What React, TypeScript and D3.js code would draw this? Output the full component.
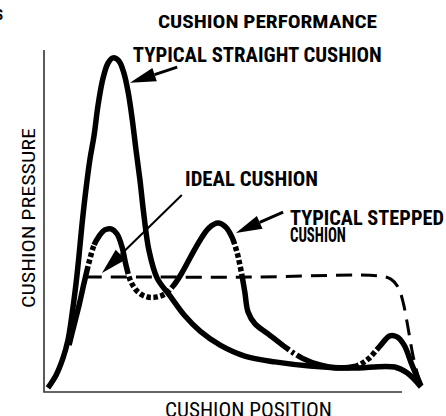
import * as d3 from 'd3';
import { useEffect, useRef } from 'react';

// position (0-100 along stroke) vs pressure (0-100)
const straightCushion: [number, number][] = [
  [1.1, 1.2], [3.4, 5.0], [5.3, 9.9], [6.7, 15.2], [7.8, 22.5], [8.9, 31.3],
  [9.8, 40.1], [10.6, 48.8], [11.7, 59.1], [12.8, 67.8], [14.0, 75.1], [15.1, 83.9],
  [16.5, 91.8], [17.9, 96.2], [19.3, 97.7], [20.9, 96.8], [22.3, 93.3], [23.5, 87.7],
  [24.6, 80.1], [25.7, 70.8], [26.8, 62.0], [27.9, 51.8], [29.3, 41.5], [31.6, 33.3],
  [35.2, 28.1], [39.4, 22.2], [43.6, 17.8], [49.2, 13.7], [56.1, 10.5], [64.5, 8.8],
  [74.3, 7.6], [85.5, 7.0], [98.0, 7.3], [101.4, 5.6], [105.3, 1.5],
];

const steppedCushion: [number, number][] = [
  [7.0, 13.7], [8.4, 19.6], [9.8, 25.4], [11.2, 31.9], [12.6, 38.0], [14.0, 43.0],
  [15.4, 45.6], [17.0, 47.4], [18.7, 47.7], [20.4, 46.2], [21.8, 42.4], [22.9, 37.1],
  [24.3, 32.2], [26.3, 29.2], [28.8, 27.8], [31.6, 27.8], [34.1, 28.9], [36.3, 31.3],
  [38.5, 34.8], [41.1, 39.8], [43.6, 44.4], [46.1, 48.0], [48.6, 49.4], [50.8, 48.2],
  [52.5, 45.3], [53.9, 40.9], [55.0, 35.7], [56.1, 29.2], [57.0, 23.4], [58.9, 20.0],
  [62.6, 17.0], [67.3, 13.2], [72.1, 9.9], [77.1, 7.9], [82.7, 7.0], [87.2, 7.6],
  [90.5, 9.6], [93.9, 13.5], [96.6, 16.4], [98.6, 16.1], [100.6, 13.7], [102.8, 7.9],
  [105.3, 1.8],
];

// broken stretches of the stepped curve: [from x, to x, kind]
const steppedBreaks: [number, number, string][] = [
  [12.0, 14.0, 'dot'],
  [23.2, 36.0, 'dot'],
  [52.8, 55.3, 'dot'],
  [66.8, 72.1, 'dashdot'],
  [86.6, 93.3, 'dot'],
];

const idealCushion: [number, number][] = [
  [11.7, 33.6], [29.6, 33.6], [57.5, 33.6], [93.9, 33.9], [96.9, 33.0], [98.9, 30.7],
  [100.3, 26.3], [101.7, 18.7], [103.1, 10.5], [104.5, 4.7], [105.9, 0.6],
];

// callouts: label lines, label anchor, arrow tail, arrow tip (data units)
const callouts = [
  { lines: ['TYPICAL STRAIGHT CUSHION'], at: [24.8, 96.5], widths: [249], tail: [37.2, 95.0], tip: [24.0, 90.4], w: 3 },
  { lines: ['IDEAL CUSHION'], at: [39.4, 60.2], widths: [133], tail: [38.5, 57.6], tip: [16.2, 34.8], w: 2 },
  { lines: ['TYPICAL STEPPED', 'CUSHION'], at: [68.7, 48.8], widths: [154, 56], tail: [66.8, 52.6], tip: [53.6, 46.5], w: 3 },
];

const patterns: Record<string, number[]> = { dot: [4.5, 2.5], dashdot: [7, 3, 3, 3] };

const FONT = "'Roboto Condensed', Roboto, 'Liberation Sans', sans-serif";

export default function App() {
  const svgRef = useRef<SVGSVGElement>(null);

  useEffect(() => {
    if (!svgRef.current) return;
    const width = 446;
    const height = 416;
    const svg = d3.select(svgRef.current);
    svg.selectAll('*').remove();

    const x = d3.scaleLinear().domain([0, 100]).range([44, 402]);
    const y = d3.scaleLinear().domain([0, 100]).range([392, 50]);

    const line = d3.line<[number, number]>()
      .x((d) => x(d[0]))
      .y((d) => y(d[1]))
      .curve(d3.curveCatmullRom.alpha(0.5));

    // cut-off text at the corner
    svg.append('text').attr('x', 3).attr('y', 20).attr('text-anchor', 'end')
      .attr('font-family', FONT).attr('font-weight', 'bold').attr('font-size', 15).text('S');

    // axes
    svg.append('path')
      .attr('d', `M${x(0)},${y(100)}V${y(0)}H${x(100)}`)
      .attr('fill', 'none').attr('stroke', '#333').attr('stroke-width', 1.6);

    // titles
    svg.append('text').attr('x', 158).attr('y', 28)
      .attr('font-family', FONT).attr('font-weight', 'bold').attr('font-size', 19)
      .attr('textLength', 219).attr('lengthAdjust', 'spacingAndGlyphs')
      .text('CUSHION PERFORMANCE');
    svg.append('text').attr('x', 165).attr('y', 417)
      .attr('font-family', FONT).attr('font-size', 20)
      .attr('textLength', 167).attr('lengthAdjust', 'spacingAndGlyphs')
      .text('CUSHION POSITION');
    svg.append('text').attr('transform', 'translate(35,308) rotate(-90)')
      .attr('font-family', FONT).attr('font-size', 18.5)
      .attr('textLength', 180).attr('lengthAdjust', 'spacingAndGlyphs')
      .text('CUSHION PRESSURE');

    // ideal cushion
    svg.append('path').attr('d', line(idealCushion))
      .attr('fill', 'none').attr('stroke', '#000').attr('stroke-width', 3)
      .attr('stroke-dasharray', '16 9');

    // straight cushion
    svg.append('path').attr('d', line(straightCushion))
      .attr('fill', 'none').attr('stroke', '#000').attr('stroke-width', 5.5)
      .attr('stroke-linejoin', 'round');

    // stepped cushion, solid with broken stretches
    const stepped = svg.append('path').attr('d', line(steppedCushion))
      .attr('fill', 'none').attr('stroke', '#000').attr('stroke-width', 5.5)
      .attr('stroke-linejoin', 'round');
    const node = stepped.node() as SVGPathElement;
    const total = node.getTotalLength();
    const lengthAtX = (px: number) => {
      let lo = 0, hi = total;
      for (let i = 0; i < 40; i++) {
        const mid = (lo + hi) / 2;
        if (node.getPointAtLength(mid).x < px) lo = mid; else hi = mid;
      }
      return lo;
    };
    const dash: number[] = [];
    let cursor = 0;
    steppedBreaks.forEach(([a, b, kind]) => {
      const la = lengthAtX(x(a));
      const lb = lengthAtX(x(b));
      dash.push(la - cursor, 0);
      const pat = patterns[kind];
      let pos = la, k = 0;
      while (pos < lb) {
        const seg = Math.min(pat[k % pat.length], lb - pos);
        dash.push(seg);
        pos += seg;
        k++;
      }
      if (dash.length % 2 === 1) dash.push(0);
      cursor = lb;
    });
    dash.push(total - cursor, total);
    stepped.attr('stroke-dasharray', dash.map((d) => d.toFixed(2)).join(' '));

    // callouts
    callouts.forEach((c) => {
      const tx = x(c.tail[0]), ty = y(c.tail[1]);
      const px = x(c.tip[0]), py = y(c.tip[1]);
      const ang = Math.atan2(py - ty, px - tx);
      const len = 26, half = 7;
      const bx = px - len * Math.cos(ang), by = py - len * Math.sin(ang);
      svg.append('line').attr('x1', tx).attr('y1', ty).attr('x2', bx).attr('y2', by)
        .attr('stroke', '#000').attr('stroke-width', c.w);
      const nx = -Math.sin(ang) * half, ny = Math.cos(ang) * half;
      svg.append('path')
        .attr('d', `M${px},${py}L${bx + nx},${by + ny}L${bx - nx},${by - ny}Z`)
        .attr('fill', '#000');
      c.lines.forEach((t, i) => {
        svg.append('text').attr('x', x(c.at[0])).attr('y', y(c.at[1]) + i * 16.5)
          .attr('font-family', FONT).attr('font-weight', 'bold').attr('font-size', 20.5)
          .attr('textLength', c.widths[i]).attr('lengthAdjust', 'spacingAndGlyphs')
          .text(t);
      });
    });

    svg.attr('width', width).attr('height', height);
  }, []);

  return <svg ref={svgRef} width={446} height={416} style={{ position: 'absolute', left: 0, top: 0, background: '#fff' }} />;
}
